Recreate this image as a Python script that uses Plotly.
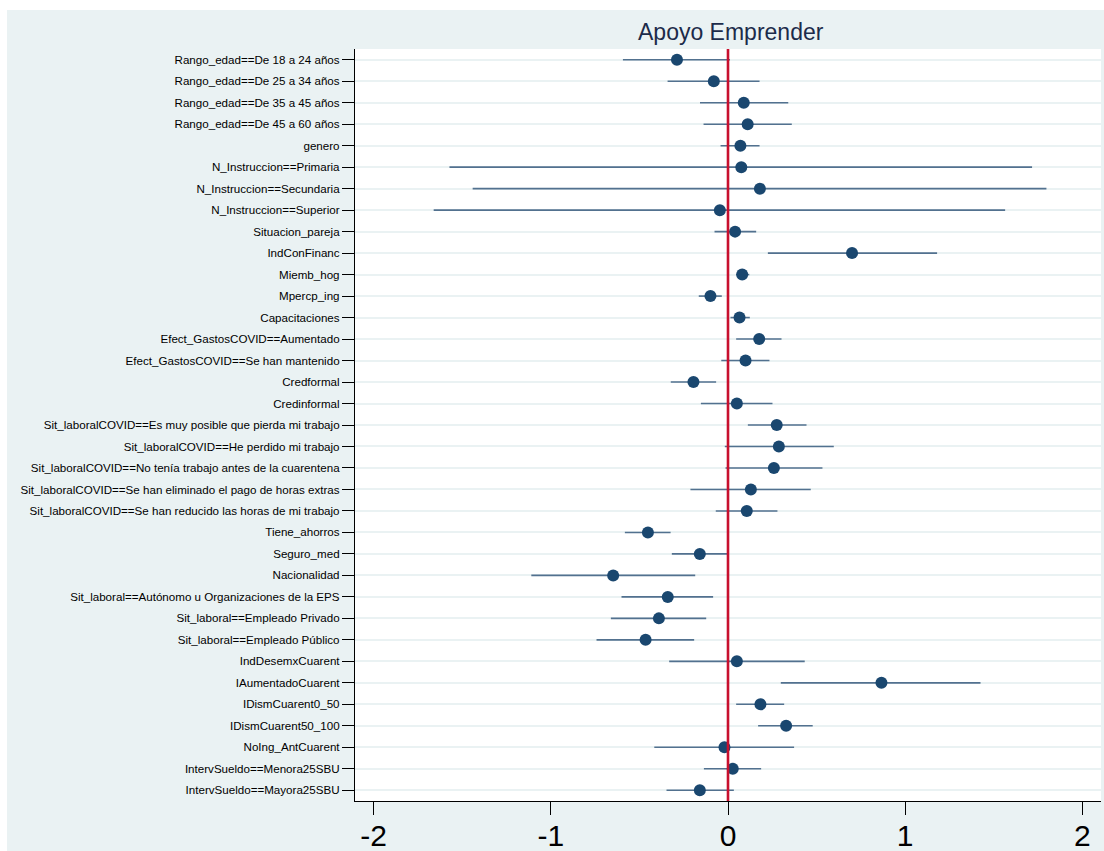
import plotly.graph_objects as go

labels = [
    "Rango_edad==De 18 a 24 años",
    "Rango_edad==De 25 a 34 años",
    "Rango_edad==De 35 a 45 años",
    "Rango_edad==De 45 a 60 años",
    "genero",
    "N_Instruccion==Primaria",
    "N_Instruccion==Secundaria",
    "N_Instruccion==Superior",
    "Situacion_pareja",
    "IndConFinanc",
    "Miemb_hog",
    "Mpercp_ing",
    "Capacitaciones",
    "Efect_GastosCOVID==Aumentado",
    "Efect_GastosCOVID==Se han mantenido",
    "Credformal",
    "Credinformal",
    "Sit_laboralCOVID==Es muy posible que pierda mi trabajo",
    "Sit_laboralCOVID==He perdido mi trabajo",
    "Sit_laboralCOVID==No tenía trabajo antes de la cuarentena",
    "Sit_laboralCOVID==Se han eliminado el pago de horas extras",
    "Sit_laboralCOVID==Se han reducido las horas de mi trabajo",
    "Tiene_ahorros",
    "Seguro_med",
    "Nacionalidad",
    "Sit_laboral==Autónomo u Organizaciones de la EPS",
    "Sit_laboral==Empleado Privado",
    "Sit_laboral==Empleado Público",
    "IndDesemxCuarent",
    "IAumentadoCuarent",
    "IDismCuarent0_50",
    "IDismCuarent50_100",
    "NoIng_AntCuarent",
    "IntervSueldo==Menora25SBU",
    "IntervSueldo==Mayora25SBU",
]

coef = [-0.288, -0.080, 0.089, 0.111, 0.070, 0.075, 0.180, -0.046, 0.040, 0.700,
        0.080, -0.099, 0.065, 0.176, 0.099, -0.195, 0.050, 0.275, 0.287, 0.259,
        0.129, 0.106, -0.452, -0.159, -0.648, -0.340, -0.390, -0.465, 0.050, 0.866,
        0.183, 0.328, -0.020, 0.027, -0.159]

ci_low = [-0.593, -0.341, -0.158, -0.138, -0.042, -1.572, -1.441, -1.661, -0.076, 0.225,
          0.046, -0.165, 0.014, 0.046, -0.038, -0.323, -0.153, 0.112, -0.018, -0.014,
          -0.212, -0.069, -0.582, -0.317, -1.110, -0.601, -0.661, -0.742, -0.332, 0.298,
          0.046, 0.170, -0.416, -0.136, -0.347]

ci_high = [0.011, 0.178, 0.340, 0.360, 0.178, 1.716, 1.797, 1.564, 0.159, 1.180,
           0.120, -0.035, 0.123, 0.302, 0.234, -0.067, 0.251, 0.443, 0.597, 0.533,
           0.467, 0.279, -0.324, -0.005, -0.185, -0.084, -0.123, -0.191, 0.433, 1.425,
           0.317, 0.478, 0.373, 0.187, 0.033]

x_ticks = [-2, -1, 0, 1, 2]
x_tick_text = ["-2", "-1", "0", "1", "2"]
title_text = "Apoyo Emprender"

positions = list(range(1, len(labels) + 1))
err_plus = [h - c for h, c in zip(ci_high, coef)]
err_minus = [c - l for c, l in zip(coef, ci_low)]

BG = "#EAF2F3"
NAVY = "#1a476f"

W, H = 1104, 851
L, R, T, B = 355, 3, 49, 50
pw, ph = W - L - R, H - T - B

def px_x(p):
    return (p - L) / pw

def px_y(p):
    return (H - B - p) / ph

fig = go.Figure()
fig.add_trace(go.Scatter(
    x=coef, y=positions, mode="markers",
    marker=dict(size=12, color=NAVY, line=dict(width=0)),
    error_x=dict(type="data", symmetric=False, array=err_plus, arrayminus=err_minus,
                 width=0, thickness=1.6, color="#52718f"),
    showlegend=False, hoverinfo="skip",
))

shapes = [
    # white strips outside the Stata graph region
    dict(type="rect", xref="paper", yref="paper", x0=px_x(-5), x1=px_x(7), y0=-2, y1=3,
         fillcolor="white", line=dict(width=0), layer="below"),
    dict(type="rect", xref="paper", yref="paper", x0=-2, x1=3, y0=px_y(10), y1=px_y(-5),
         fillcolor="white", line=dict(width=0), layer="below"),
    # zero reference line
    dict(type="line", xref="x", yref="paper", x0=0, x1=0, y0=0, y1=1,
         line=dict(color="#c8102e", width=2.6), layer="above"),
]

fig.update_layout(
    width=W, height=H,
    margin=dict(l=L, r=R, t=T, b=B, pad=0, autoexpand=False),
    paper_bgcolor=BG, plot_bgcolor="white",
    font=dict(family="Liberation Sans, Arial, sans-serif", color="black"),
    shapes=shapes,
    annotations=[dict(text=title_text, xref="paper", yref="paper",
                      x=px_x(731), y=px_y(32), xanchor="center", yanchor="middle",
                      showarrow=False, font=dict(size=23, color="#1c2b4a"))],
    xaxis=dict(range=[-2.105, 2.105], tickvals=x_ticks, ticktext=x_tick_text,
               showgrid=False, zeroline=False, showline=True, linecolor="black",
               linewidth=1.2, ticks="outside", ticklen=13, tickcolor="black",
               tickwidth=1.2, tickfont=dict(size=30, color="black"), mirror=False,
               automargin=False, ticklabelstandoff=-5),
    yaxis=dict(range=[35.5, 0.5], tickvals=positions, ticktext=labels,
               showgrid=True, gridcolor=BG, gridwidth=2, zeroline=False,
               showline=True, linecolor="black", linewidth=1.2, ticks="outside",
               ticklen=12, tickcolor="black", tickwidth=1.2,
               tickfont=dict(size=11.6, color="black"), mirror=False,
               automargin=False),
)

fig.write_html("out.html")
